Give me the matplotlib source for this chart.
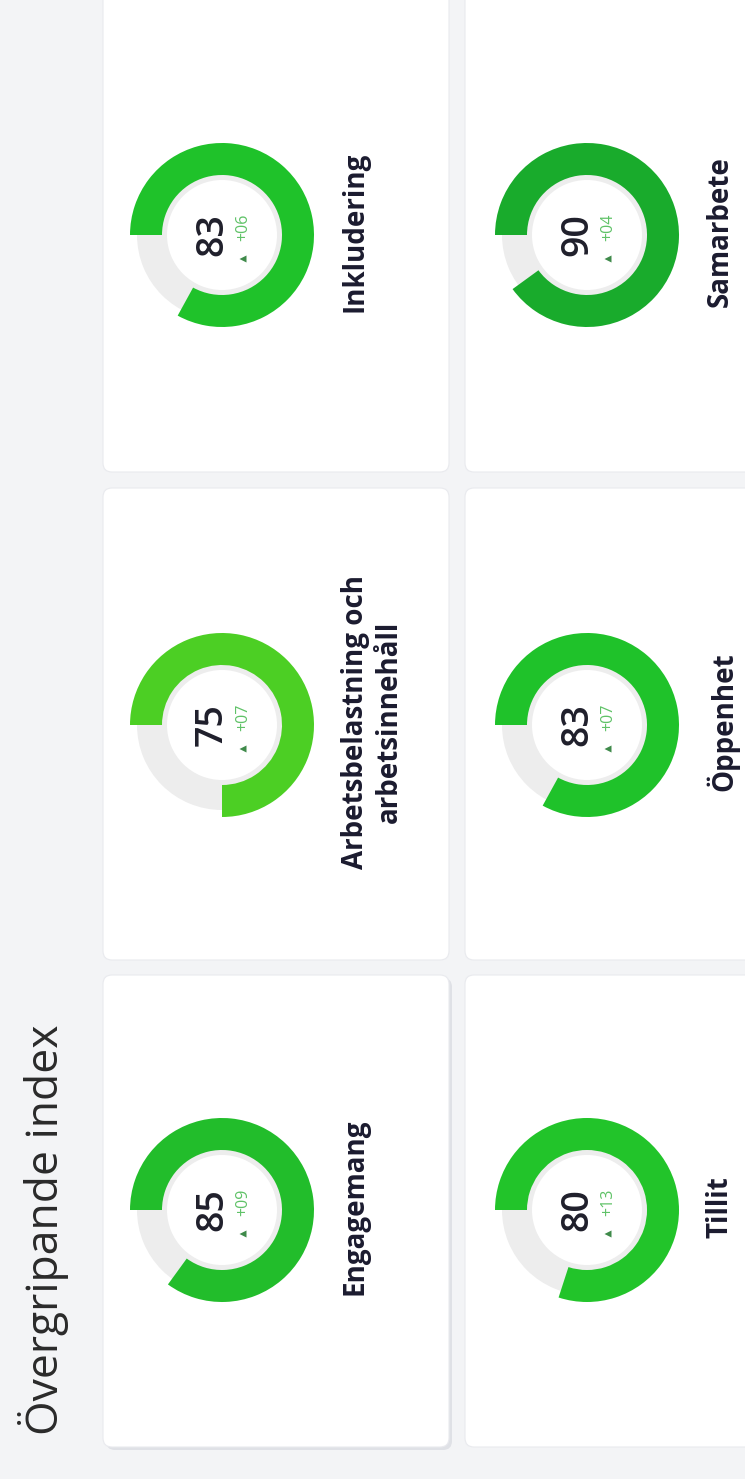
import numpy as np
import matplotlib.pyplot as plt
from matplotlib.patches import Wedge, FancyBboxPatch, Polygon

# data
labels = ["Engagemang", "Arbetsbelastning och\narbetsinnehåll", "Inkludering",
          "Tillit", "Öppenhet", "Samarbete"]
scores = [85, 75, 83, 80, 83, 90]
deltas = ["+09", "+07", "+06", "+13", "+07", "+04"]
ring_colors = ["#22bd2b", "#4ccf24", "#1fc22a", "#22c42a", "#1fc22a", "#19ab2c"]
title = "Övergripande index"

W, H = 745, 1479
plt.rcParams['font.family'] = ['Open Sans', 'DejaVu Sans']

fig = plt.figure(figsize=(W / 100, H / 100), dpi=100)
fig.patch.set_facecolor("#f3f4f6")
ax = fig.add_axes([0, 0, 1, 1])
ax.set_xlim(0, W)
ax.set_ylim(0, H)
ax.set_aspect("equal")
ax.axis("off")


def Y(y):
    # picture y (down) -> axes y (up)
    return H - y


# card layout (picture coords): columns x, rows y
col_x = [(103, 449), (465, 760)]
row_y = [(975, 1447), (488, 960), (-10, 472)]
centers_x = [222, 587]
centers_y = [1210, 725, 235]

# title
ax.text(44, Y(1230), title, rotation=90, ha="center", va="center",
        fontsize=32, color="#2a2a2a")

for i in range(6):
    c = i // 3
    r = i % 3
    x0, x1 = col_x[c]
    y0, y1 = row_y[r]
    if i == 0:
        sh = FancyBboxPatch((x0 + 3, Y(y1) - 3), x1 - x0, y1 - y0,
                            boxstyle="round,pad=0,rounding_size=9",
                            facecolor="#dfe1e6", edgecolor="none", zorder=1)
        ax.add_patch(sh)
    card = FancyBboxPatch((x0, Y(y1)), x1 - x0, y1 - y0,
                          boxstyle="round,pad=0,rounding_size=9",
                          facecolor="white", edgecolor="#e9eaee", lw=0.8, zorder=2)
    ax.add_patch(card)

    cx, cy = centers_x[c], Y(centers_y[r])
    ax.add_patch(Wedge((cx, cy), 85, 0, 360, width=30,
                       facecolor="#ededed", edgecolor="none", zorder=3))
    v = scores[i]
    ax.add_patch(Wedge((cx, cy), 92, 180 - 3.6 * v, 180, width=32,
                       facecolor=ring_colors[i], edgecolor="none", zorder=4))

    ax.text(cx - 10, cy, str(v), rotation=90, ha="center", va="center",
            fontsize=27, fontweight="semibold", color="#1f1f2b", zorder=5)
    ax.text(cx + 21, cy + 8, deltas[i], rotation=90, ha="center", va="center",
            fontsize=11.5, color="#5fc267", zorder=5)
    tx, ty = cx + 21, cy - 24
    ax.add_patch(Polygon([[tx + 3.5, ty - 3.5], [tx + 3.5, ty + 3.5], [tx - 3.5, ty]],
                         closed=True, facecolor="#3f8a4a", edgecolor="none", zorder=5))

    ax.text(cx + 119, cy + 3, labels[i], rotation=90, ha="left", va="center",
            fontsize=20, fontweight="bold", color="#1b1b2f",
            multialignment="center", linespacing=1.2, zorder=5)

fig.savefig("out.png", dpi=100, facecolor=fig.get_facecolor())
